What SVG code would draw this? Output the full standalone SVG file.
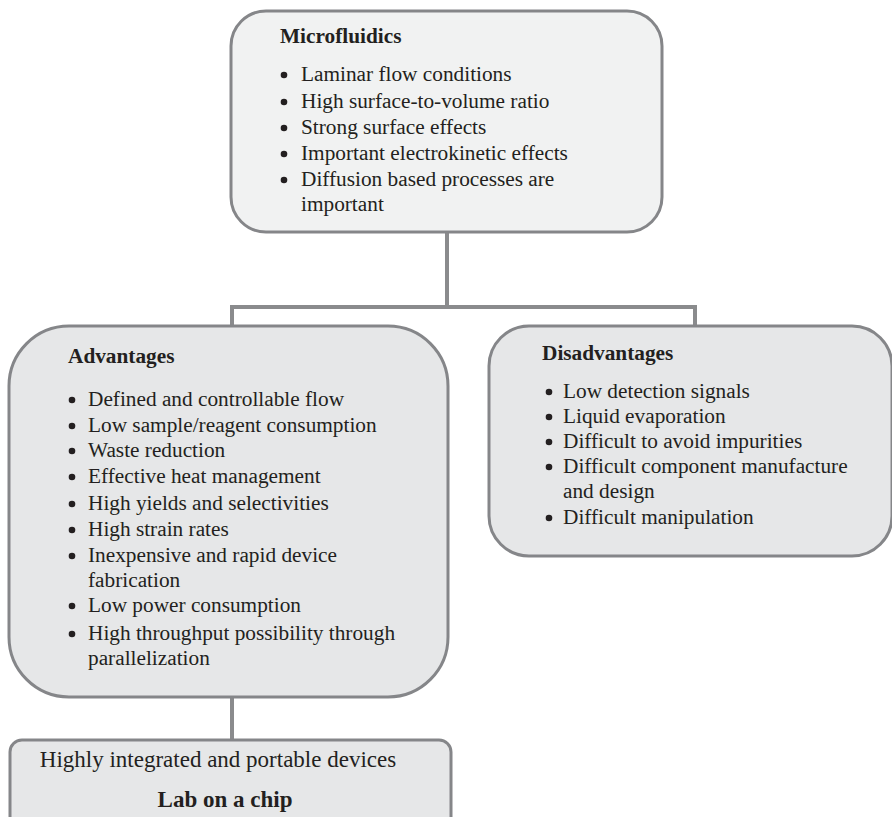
<svg xmlns="http://www.w3.org/2000/svg" width="892" height="817" viewBox="0 0 892 817">
<style>
.box{stroke:#858689;stroke-width:3}
.light{fill:#f1f2f2}
.mid{fill:#e6e7e8}
.t{font-family:"Liberation Serif","Times New Roman",serif;font-size:21.3px;fill:#231f20}
.big{font-size:23px}
.b{font-weight:bold}
.bul{fill:#231f20}
.con{fill:none;stroke:#8a8b8d;stroke-width:4}
</style>
<rect width="892" height="817" fill="#ffffff"/>
<g id="connectors">
<path class="con" d="M447,232 V307 M230,307 H697 M232,307 V326 M695,307 V326 M232,697 V740"/>
</g>
<g id="microfluidics">
<rect class="box light" x="231" y="11" width="431" height="221" rx="35"/>
<text class="t b" x="280" y="43">Microfluidics</text>
<g class="bul"><circle cx="284" cy="75" r="3.3"/><circle cx="284" cy="102" r="3.3"/><circle cx="284" cy="128" r="3.3"/><circle cx="284" cy="154" r="3.3"/><circle cx="284" cy="180" r="3.3"/></g>
<text class="t" x="301" y="81">Laminar flow conditions</text>
<text class="t" x="301" y="108">High surface-to-volume ratio</text>
<text class="t" x="301" y="134">Strong surface effects</text>
<text class="t" x="301" y="160">Important electrokinetic effects</text>
<text class="t" x="301" y="186">Diffusion based processes are</text>
<text class="t" x="301" y="211">important</text>
</g>
<g id="advantages">
<rect class="box mid" x="9" y="326" width="439" height="371" rx="60"/>
<text class="t b" x="68" y="363">Advantages</text>
<g class="bul"><circle cx="72" cy="400" r="3.3"/><circle cx="72" cy="426" r="3.3"/><circle cx="72" cy="451" r="3.3"/><circle cx="72" cy="477" r="3.3"/><circle cx="72" cy="504" r="3.3"/><circle cx="72" cy="530" r="3.3"/><circle cx="72" cy="556" r="3.3"/><circle cx="72" cy="606" r="3.3"/><circle cx="72" cy="634" r="3.3"/></g>
<text class="t" x="88" y="406">Defined and controllable flow</text>
<text class="t" x="88" y="432">Low sample/reagent consumption</text>
<text class="t" x="88" y="457">Waste reduction</text>
<text class="t" x="88" y="483">Effective heat management</text>
<text class="t" x="88" y="510">High yields and selectivities</text>
<text class="t" x="88" y="536">High strain rates</text>
<text class="t" x="88" y="562">Inexpensive and rapid device</text>
<text class="t" x="88" y="587">fabrication</text>
<text class="t" x="88" y="612">Low power consumption</text>
<text class="t" x="88" y="640">High throughput possibility through</text>
<text class="t" x="88" y="665">parallelization</text>
</g>
<g id="disadvantages">
<rect class="box mid" x="489" y="326" width="403" height="230" rx="40"/>
<text class="t b" x="542" y="360">Disadvantages</text>
<g class="bul"><circle cx="549" cy="392" r="3.3"/><circle cx="549" cy="417" r="3.3"/><circle cx="549" cy="442" r="3.3"/><circle cx="549" cy="467" r="3.3"/><circle cx="549" cy="518" r="3.3"/></g>
<text class="t" x="563" y="398">Low detection signals</text>
<text class="t" x="563" y="423">Liquid evaporation</text>
<text class="t" x="563" y="448">Difficult to avoid impurities</text>
<text class="t" x="563" y="473">Difficult component manufacture</text>
<text class="t" x="563" y="498">and design</text>
<text class="t" x="563" y="524">Difficult manipulation</text>
</g>
<g id="labonchip">
<rect class="box mid" x="10" y="740" width="441" height="100" rx="12"/>
<text class="t big" x="218" y="767" text-anchor="middle">Highly integrated and portable devices</text>
<text class="t big b" x="225" y="807" text-anchor="middle">Lab on a chip</text>
</g>
</svg>
